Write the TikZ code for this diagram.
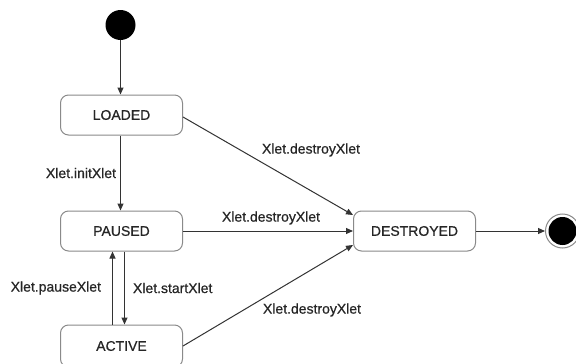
\documentclass[tikz,border=0pt]{standalone}
\usepackage{fontspec}
\setmainfont{Liberation Sans}[FakeBold=0.6]
\usetikzlibrary{arrows.meta}
\definecolor{linegray}{HTML}{333333}
\definecolor{boxgray}{HTML}{8A8A8A}
\tikzset{
  statebox/.style={draw=boxgray, line width=1pt, rounded corners=8pt,
    minimum width=122pt, minimum height=40pt, inner sep=0pt,
    font=\fontsize{14}{16}\selectfont, text=black!85},
  trans/.style={draw=linegray, line width=1pt,
    -{Triangle[length=7pt,width=6pt]}},
  lbl/.style={font=\fontsize{14}{16}\selectfont, text=black!85, inner sep=1pt}
}
\begin{document}
\begin{tikzpicture}[x=1pt,y=-1pt]
  \useasboundingbox (0,0) rectangle (576,364);
  \fill[white] (0,0) rectangle (576,364);

  % states
  \node[circle, fill=black, minimum size=30pt, inner sep=0pt] (start) at (120.5,25) {};
  \node[statebox] (loaded) at (121.5,115) {LOADED};
  \node[statebox] (paused) at (121.5,231) {PAUSED};
  \node[statebox, minimum height=42pt] (active) at (121.5,346) {ACTIVE};
  \node[statebox] (destroyed) at (414.5,231) {DESTROYED};
  \node[circle, draw=boxgray, line width=1pt, minimum size=34pt, inner sep=0pt] (final) at (562.5,231) {};
  \fill[black] (final.center) circle (14pt);

  % transitions
  \draw[trans] (start) -- (start |- loaded.north);
  \draw[trans] (loaded.south -| start) -- (paused.north -| start)
    node[lbl, midway, left=3pt] {Xlet.initXlet};
  \draw[trans] ([xshift=3pt]paused.south) -- ([xshift=3pt]active.north)
    node[lbl, midway, right=7pt] {Xlet.startXlet};
  \draw[trans] ([xshift=-9pt]active.north) -- ([xshift=-9pt]paused.south)
    node[lbl, midway, left=10pt] {Xlet.pauseXlet};
  \draw[trans] ([yshift=-2pt]loaded.east) -- ([yshift=16pt]destroyed.west);
  \draw[trans] (paused.east) -- (destroyed.west);
  \draw[trans] (active.east) -- ([yshift=-14pt]destroyed.west);
  \draw[trans] (destroyed.east) -- (final.west);

  % transition labels
  \node[lbl] (lbltop) at (311,150) {Xlet.destroyXlet};
  \node[lbl] (lblmid) at (271,218) {Xlet.destroyXlet};
  \node[lbl] (lblbot) at (312,310) {Xlet.destroyXlet};
\end{tikzpicture}
\end{document}
